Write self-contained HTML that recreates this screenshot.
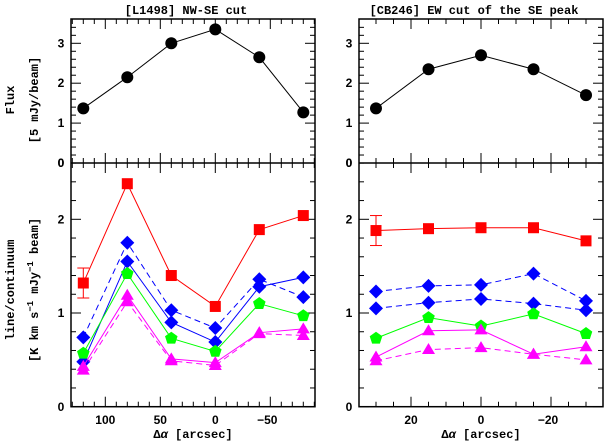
<!DOCTYPE html>
<html><head><meta charset="utf-8"><style>
body{margin:0;background:#fff;}
svg{display:block;font-family:"Liberation Sans",sans-serif;font-weight:bold;}
</style></head><body>
<svg id="c" width="604" height="441"></svg>
<script>
const NS="http://www.w3.org/2000/svg";
const fluxL=[1.37,2.15,3.0,3.35,2.65,1.27];
const fluxR=[1.37,2.35,2.7,2.35,1.7];
const xL=[120,80,40,0,-40,-80];
const xR=[30,15,0,-15,-30];
const redL=[1.32,2.38,1.40,1.07,1.89,2.04];
const blueDashL=[0.74,1.75,1.03,0.84,1.36,1.17];
const blueSolidL=[0.48,1.55,0.90,0.69,1.28,1.38];
const greenL=[0.57,1.42,0.73,0.59,1.10,0.97];
const magSolidL=[0.43,1.19,0.51,0.47,0.79,0.83];
const magDashL=[0.39,1.12,0.49,0.44,0.78,0.76];
const redR=[1.88,1.90,1.91,1.91,1.77];
const blueDash1R=[1.23,1.29,1.30,1.42,1.13];
const blueDash2R=[1.05,1.11,1.15,1.10,1.03];
const greenR=[0.73,0.95,0.86,0.99,0.78];
const magSolidR=[0.53,0.81,0.82,0.56,0.64];
const magDashR=[0.49,0.61,0.63,0.56,0.50];
const errL=0.16, errR=0.16;
const svg=document.getElementById('c');
const MONO='Liberation Mono,monospace';
function el(t,a,p){const e=document.createElementNS(NS,t);for(const k in a)e.setAttribute(k,a[k]);(p||svg).appendChild(e);return e;}
function txt(x,y,s,a,name){const t=el('text',Object.assign({x:x,y:y,'font-size':12,'text-anchor':'middle'},a||{}));t.textContent=s;

return t;}
const P={L:{x0:71,x1:315,sx:v=>215.3-v*1.1},R:{x0:359,x1:603,sx:v=>481-v*3.5}};
const yT=v=>163-v*39.9, yB=v=>406.7-v*93.7;
function frame(p,name,xmin,xmax,minStep,majStep,xlabels){
  const g=el('g',{});
  
  
  el('rect',{x:p.x0,y:19,width:p.x1-p.x0,height:406.7-19,fill:'none',stroke:'#000','stroke-width':1.5},g);
  el('line',{x1:p.x0,x2:p.x1,y1:163,y2:163,stroke:'#000','stroke-width':1.5},g);
  for(let v=xmin;v<=xmax+1e-6;v+=minStep){const X=p.sx(v);if(X<p.x0||X>p.x1)continue;
    const maj=Math.abs(v/majStep-Math.round(v/majStep))<1e-6;const L=maj?10:5;
    for(const yy of [19,163,406.7]){el('line',{x1:X,x2:X,y1:yy,y2:yy+(yy==19?L:-L),stroke:'#000'},g);
      if(yy==163)el('line',{x1:X,x2:X,y1:163,y2:163+L,stroke:'#000'},g);}}
  xlabels.forEach(v=>txt(p.sx(v)+(v<0?-3:0),424,v<0?'\u2212'+(-v):String(v),{},'x-tick-label'));
  for(let v=0;v<=3.6;v+=0.2){const Y=yT(v);if(Y<19)continue;const maj=Math.abs(v-Math.round(v))<1e-6;const L=maj?10:5;
    el('line',{x1:p.x0,x2:p.x0+L,y1:Y,y2:Y,stroke:'#000'},g);el('line',{x1:p.x1,x2:p.x1-L,y1:Y,y2:Y,stroke:'#000'},g);
    if(maj)txt(p.x0-10,Y+4,String(Math.round(v)),{},'y-tick-label');}
  for(let v=0;v<=2.6;v+=0.2){const Y=yB(v);if(Y<163)continue;const maj=Math.abs(v-Math.round(v))<1e-6;const L=maj?10:5;
    el('line',{x1:p.x0,x2:p.x0+L,y1:Y,y2:Y,stroke:'#000'},g);el('line',{x1:p.x1,x2:p.x1-L,y1:Y,y2:Y,stroke:'#000'},g);
    if(maj&&v>0.1)txt(p.x0-10,Y+4,String(Math.round(v)),{},'y-tick-label');}
  txt(p.x0-10,411,'0',{},'y-tick-label');
  txt(p.x0-10,167,'0',{},'y-tick-label');
}
frame(P.L,'left-panel',-90,130,10,50,[100,50,0,-50]);
frame(P.R,'right-panel',-35,35,5,20,[20,0,-20]);
function series(p,xs,ys,sy,color,dash,marker,name,sz){
  const g=el('g',{});
  
  
  el('polyline',{points:xs.map((x,i)=>p.sx(x)+','+sy(ys[i])).join(' '),fill:'none',stroke:color,'stroke-width':1,'stroke-dasharray':dash?'6,4':'none'},g);
  xs.forEach((x,i)=>{const X=p.sx(x),Y=sy(ys[i]);let m;const s=sz||6;
    if(marker=='circle')m=el('circle',{cx:X,cy:Y,r:s,fill:color},g);
    else if(marker=='square')m=el('rect',{x:X-s,y:Y-s,width:2*s,height:2*s,fill:color},g);
    else if(marker=='diamond')m=el('polygon',{points:`${X},${Y-s-1} ${X+s+1},${Y} ${X},${Y+s+1} ${X-s-1},${Y}`,fill:color},g);
    else if(marker=='pent'){let pts=[];for(let k=0;k<5;k++){const a=-Math.PI/2+k*2*Math.PI/5;pts.push((X+s*1.1*Math.cos(a))+','+(Y+s*1.1*Math.sin(a)));}m=el('polygon',{points:pts.join(' '),fill:color},g);}
    else if(marker=='tri')m=el('polygon',{points:`${X},${Y-s-1} ${X+s+1},${Y+s-1} ${X-s-1},${Y+s-1}`,fill:color},g);
    
    });
}
function err(p,x,y,e,name){const X=p.sx(x);const g=el('g',{stroke:'#f00'});
  
  
  el('line',{x1:X,x2:X,y1:yB(y-e),y2:yB(y+e)},g);
  el('line',{x1:X-6,x2:X+6,y1:yB(y-e),y2:yB(y-e)},g);
  el('line',{x1:X-6,x2:X+6,y1:yB(y+e),y2:yB(y+e)},g);}
series(P.L,xL,fluxL,yT,'#000',false,'circle','flux-left',6);
series(P.R,xR,fluxR,yT,'#000',false,'circle','flux-right',6);
err(P.L,xL[0],redL[0],errL,'error-bar-left');
err(P.R,xR[0],redR[0],errR,'error-bar-right');
series(P.L,xL,redL,yB,'#f00',false,'square','red-left',5.5);
series(P.L,xL,blueDashL,yB,'#00f',true,'diamond','blue-dashed-left',6);
series(P.L,xL,blueSolidL,yB,'#00f',false,'diamond','blue-solid-left',6);
series(P.L,xL,greenL,yB,'#0f0',false,'pent','green-left',6);
series(P.L,xL,magDashL,yB,'#f0f',true,'tri','magenta-dashed-left',5.5);
series(P.L,xL,magSolidL,yB,'#f0f',false,'tri','magenta-solid-left',5.5);
series(P.R,xR,redR,yB,'#f00',false,'square','red-right',5.5);
series(P.R,xR,blueDash1R,yB,'#00f',true,'diamond','blue-dashed-upper-right',6);
series(P.R,xR,blueDash2R,yB,'#00f',true,'diamond','blue-dashed-lower-right',6);
series(P.R,xR,greenR,yB,'#0f0',false,'pent','green-right',6);
series(P.R,xR,magDashR,yB,'#f0f',true,'tri','magenta-dashed-right',5.5);
series(P.R,xR,magSolidR,yB,'#f0f',false,'tri','magenta-solid-right',5.5);
txt(186,14,'[L1498] NW-SE cut',{'font-family':MONO},'left-title');
txt(474,14,'[CB246] EW cut of the SE peak',{'font-family':MONO},'right-title');
const xl1=txt(193,438,'',{'font-family':MONO},'x-axis-title-left');xl1.innerHTML='Δ<tspan font-style="italic">α</tspan> [arcsec]';
const xl2=txt(481,438,'',{'font-family':MONO},'x-axis-title-right');xl2.innerHTML='Δ<tspan font-style="italic">α</tspan> [arcsec]';
txt(0,0,'Flux',{transform:'translate(14,100) rotate(-90)','font-family':MONO},'y-axis-title-top');
txt(0,0,'[5 mJy/beam]',{transform:'translate(38,100) rotate(-90)','font-family':MONO},'y-axis-title-top-units');
txt(0,0,'line/continuum',{transform:'translate(14,290) rotate(-90)','font-family':MONO},'y-axis-title-bottom');
const u=txt(0,0,'',{transform:'translate(38,290) rotate(-90)','font-family':MONO},'y-axis-title-bottom-units');
u.innerHTML='[K km s<tspan dy="-5" font-size="9">−1</tspan><tspan dy="5"> mJy</tspan><tspan dy="-5" font-size="9">−1</tspan><tspan dy="5"> beam]</tspan>';
</script>
</body></html>
